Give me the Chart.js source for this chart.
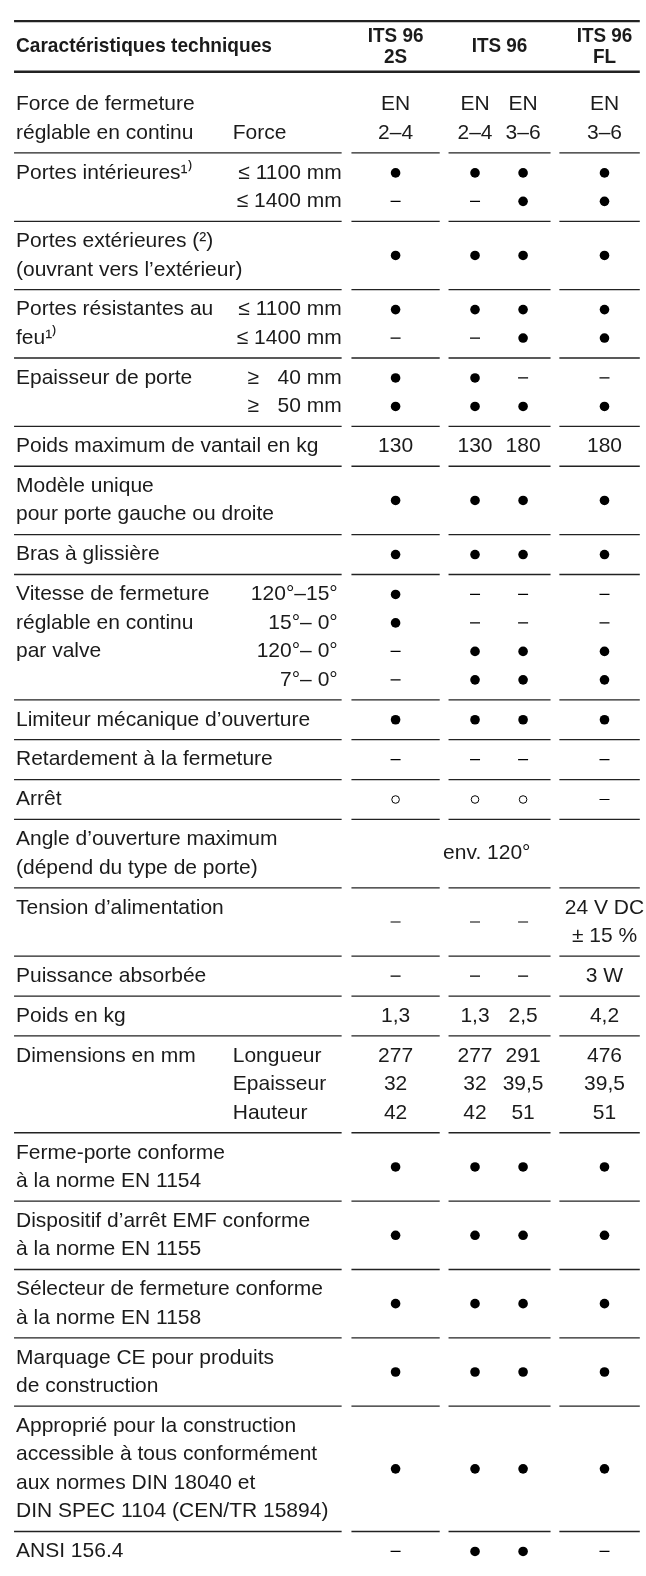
<!DOCTYPE html>
<html><head><meta charset="utf-8">
<script src="https://cdn.jsdelivr.net/npm/chart.js@4.4.1/dist/chart.umd.min.js"></script>
<style>html,body{margin:0;padding:0;background:#fff;overflow:hidden}canvas{display:block}</style>
</head><body><canvas id="c" width="646" height="1576"></canvas>
<script>
// ---------------- DATA ----------------
const headerTitle = 'Caractéristiques techniques';
const modelHeaders = [['ITS 96', '2S'], ['ITS 96'], ['ITS 96', 'FL']];
const columnKeys = ['ITS 96 2S', 'ITS 96 EN 2–4', 'ITS 96 EN 3–6', 'ITS 96 FL'];

const rowLabels = [
  ['Force de fermeture', 'réglable en continu'],
  ['Portes intérieures¹⁾', ''],
  ['Portes extérieures (²)', '(ouvrant vers l’extérieur)'],
  ['Portes résistantes au', 'feu¹⁾'],
  ['Epaisseur de porte', ''],
  ['Poids maximum de vantail en kg'],
  ['Modèle unique', 'pour porte gauche ou droite'],
  ['Bras à glissière'],
  ['Vitesse de fermeture', 'réglable en continu', 'par valve', ''],
  ['Limiteur mécanique d’ouverture'],
  ['Retardement à la fermeture'],
  ['Arrêt'],
  ['Angle d’ouverture maximum', '(dépend du type de porte)'],
  ['Tension d’alimentation', ''],
  ['Puissance absorbée'],
  ['Poids en kg'],
  ['Dimensions en mm', '', ''],
  ['Ferme-porte conforme', 'à la norme EN 1154'],
  ['Dispositif d’arrêt EMF conforme', 'à la norme EN 1155'],
  ['Sélecteur de fermeture conforme', 'à la norme EN 1158'],
  ['Marquage CE pour produits', 'de construction'],
  ['Approprié pour la construction', 'accessible à tous conformément', 'aux normes DIN 18040 et', 'DIN SPEC 1104 (CEN/TR 15894)'],
  ['ANSI 156.4']
];

// sub labels: [kind, lines]
const rowSubLabels = [
  ['left', [null, 'Force']],
  ['mm', ['≤ 1100 mm', '≤ 1400 mm']],
  null,
  ['mm', ['≤ 1100 mm', '≤ 1400 mm']],
  ['split', [['≥', '40 mm'], ['≥', '50 mm']]],
  null, null, null,
  ['angle', ['120°–15°', '15°– 0°', '120°– 0°', '7°– 0°']],
  null, null, null, null, null, null, null,
  ['left', ['Longueur', 'Epaisseur', 'Hauteur']],
  null, null, null, null, null, null
];

// values: a string = vertically centred in the row, an array = one per line
const values2S = [
  ['EN', '2–4'], ['●', '–'], '●', ['●', '–'], ['●', '●'], '130', '●', '●',
  ['●', '●', '–', '–'], '●', '–', '○', null, '–', '–', '1,3', ['277', '32', '42'],
  '●', '●', '●', '●', '●', '–'
];
const valuesITS96a = [
  ['EN', '2–4'], ['●', '–'], '●', ['●', '–'], ['●', '●'], '130', '●', '●',
  ['–', '–', '●', '●'], '●', '–', '○', null, '–', '–', '1,3', ['277', '32', '42'],
  '●', '●', '●', '●', '●', '●'
];
const valuesITS96b = [
  ['EN', '3–6'], ['●', '●'], '●', ['●', '●'], ['–', '●'], '180', '●', '●',
  ['–', '–', '●', '●'], '●', '–', '○', null, '–', '–', '2,5', ['291', '39,5', '51'],
  '●', '●', '●', '●', '●', '●'
];
const valuesFL = [
  ['EN', '3–6'], ['●', '●'], '●', ['●', '●'], ['–', '●'], '180', '●', '●',
  ['–', '–', '●', '●'], '●', '–', '–', null, ['24 V DC', '± 15 %'], '3 W', '4,2', ['476', '39,5', '51'],
  '●', '●', '●', '●', '●', '–'
];
const spanningValues = [null, null, null, null, null, null, null, null, null, null, null, null,
  'env. 120°', null, null, null, null, null, null, null, null, null, null];

// ---------------- LAYOUT ----------------
const W = 646, H = 1576;
const TOP_LINE = 15, HEAD_LINE = 66, FIRST_EXTRA = 13, PAD = 11.5, LINE = 28.7;
const LABEL_X = 10, SUB_LEFT_X = 231, SUB_RIGHT_X = 342, SUB_ANGLE_X = 338, SUB_SPLIT_X = 246;
const colX = [397, 478, 527, 610];
const headX = [397, 503, 610];
const spanX = 490;
const segs = [[8, 342], [352, 442], [451, 555], [564, 646]];
const FONT = '"Liberation Sans", Arial, sans-serif';
const INK = '#1b1b1b';

const allValues = [values2S, valuesITS96a, valuesITS96b, valuesFL];
const rowTop = [], rowOff = [];
let yAcc = HEAD_LINE;
rowLabels.forEach((lab, i) => {
  const extra = i === 0 ? FIRST_EXTRA : 0;
  rowTop.push(yAcc); rowOff.push(extra);
  yAcc += extra + PAD + lab.length * LINE;
});
const lineY = (r, k) => rowTop[r] + rowOff[r] + PAD / 2 + LINE / 2 + k * LINE;
const midY = r => rowTop[r] + rowOff[r] + PAD / 2 + rowLabels[r].length * LINE / 2;

const dots = [], rings = [], dashes = [], texts = [];
allValues.forEach((col, c) => {
  col.forEach((v, r) => {
    if (v == null) return;
    const items = Array.isArray(v) ? v.map((s, k) => [s, lineY(r, k)]) : [[v, midY(r)]];
    items.forEach(([s, y]) => {
      const p = { x: colX[c], y };
      if (s === '●') dots.push(p);
      else if (s === '○') rings.push(p);
      else if (s === '–') dashes.push(p);
      else texts.push({ x: colX[c], y, s });
    });
  });
});
spanningValues.forEach((s, r) => { if (s) texts.push({ x: spanX, y: midY(r), s }); });

function condensedText(ctx, s, px, py, sx) {
  ctx.save();
  ctx.translate(px, py);
  ctx.scale(sx, 1);
  ctx.fillText(s, 0, 0);
  ctx.restore();
}

const tablePlugin = {
  id: 'tablePlugin',
  beforeDatasetsDraw(chart) {
    const { ctx, scales: { x, y } } = chart;
    const X = v => x.getPixelForValue(v), Y = v => y.getPixelForValue(v);
    ctx.save();
    ctx.strokeStyle = '#222';
    ctx.lineWidth = 2.4;
    [TOP_LINE, HEAD_LINE].forEach(yy => {
      ctx.beginPath(); ctx.moveTo(X(8), Y(yy)); ctx.lineTo(X(646), Y(yy)); ctx.stroke();
    });
    ctx.lineWidth = 1.3;
    rowTop.slice(1).forEach(yy => {
      segs.forEach(([a, b]) => { ctx.beginPath(); ctx.moveTo(X(a), Y(yy)); ctx.lineTo(X(b), Y(yy)); ctx.stroke(); });
    });
    ctx.fillStyle = INK;
    ctx.textBaseline = 'middle';
    // header (bold, slightly condensed)
    const hMid = (TOP_LINE + HEAD_LINE) / 2;
    ctx.font = 'bold 21px ' + FONT;
    ctx.textAlign = 'left';
    condensedText(ctx, headerTitle, X(LABEL_X), Y(hMid), 0.91);
    ctx.textAlign = 'center';
    modelHeaders.forEach((lines, i) => {
      lines.forEach((s, k) => {
        const yy = hMid + (k - (lines.length - 1) / 2) * 21;
        condensedText(ctx, s, X(headX[i]), Y(yy), 0.9);
      });
    });
    // row labels
    ctx.font = '21px ' + FONT;
    ctx.textAlign = 'left';
    rowLabels.forEach((lines, r) => lines.forEach((s, k) => { if (s) ctx.fillText(s, X(LABEL_X), Y(lineY(r, k))); }));
    rowSubLabels.forEach((sub, r) => {
      if (!sub) return;
      const [kind, lines] = sub;
      lines.forEach((s, k) => {
        if (!s) return;
        const yy = Y(lineY(r, k));
        if (kind === 'left') { ctx.textAlign = 'left'; ctx.fillText(s, X(SUB_LEFT_X), yy); }
        else if (kind === 'mm') { ctx.textAlign = 'right'; ctx.fillText(s, X(SUB_RIGHT_X), yy); }
        else if (kind === 'angle') { ctx.textAlign = 'right'; ctx.fillText(s, X(SUB_ANGLE_X), yy); }
        else if (kind === 'split') {
          ctx.textAlign = 'left'; ctx.fillText(s[0], X(SUB_SPLIT_X), yy);
          ctx.textAlign = 'right'; ctx.fillText(s[1], X(SUB_RIGHT_X), yy);
        }
      });
    });
    // textual cell values
    ctx.textAlign = 'center';
    texts.forEach(t => ctx.fillText(t.s, X(t.x), Y(t.y)));
    ctx.restore();
  }
};

new Chart(document.getElementById('c'), {
  type: 'scatter',
  data: {
    datasets: [
      { label: '●', data: dots, pointStyle: 'circle', pointRadius: 4.8, backgroundColor: '#000', borderColor: '#000', borderWidth: 0 },
      { label: '○', data: rings, pointStyle: 'circle', pointRadius: 3.8, backgroundColor: 'rgba(0,0,0,0)', borderColor: '#000', borderWidth: 1 },
      { label: '–', data: dashes, pointStyle: 'line', pointRadius: 5, borderColor: '#000', borderWidth: 1.2 }
    ]
  },
  options: {
    responsive: false, animation: false, events: [],
    layout: { padding: 0 },
    plugins: { legend: { display: false }, tooltip: { enabled: false } },
    scales: {
      x: { type: 'linear', min: 0, max: W, display: false },
      y: { type: 'linear', min: 0, max: H, reverse: true, display: false }
    }
  },
  plugins: [tablePlugin]
});
</script>
</body></html>
